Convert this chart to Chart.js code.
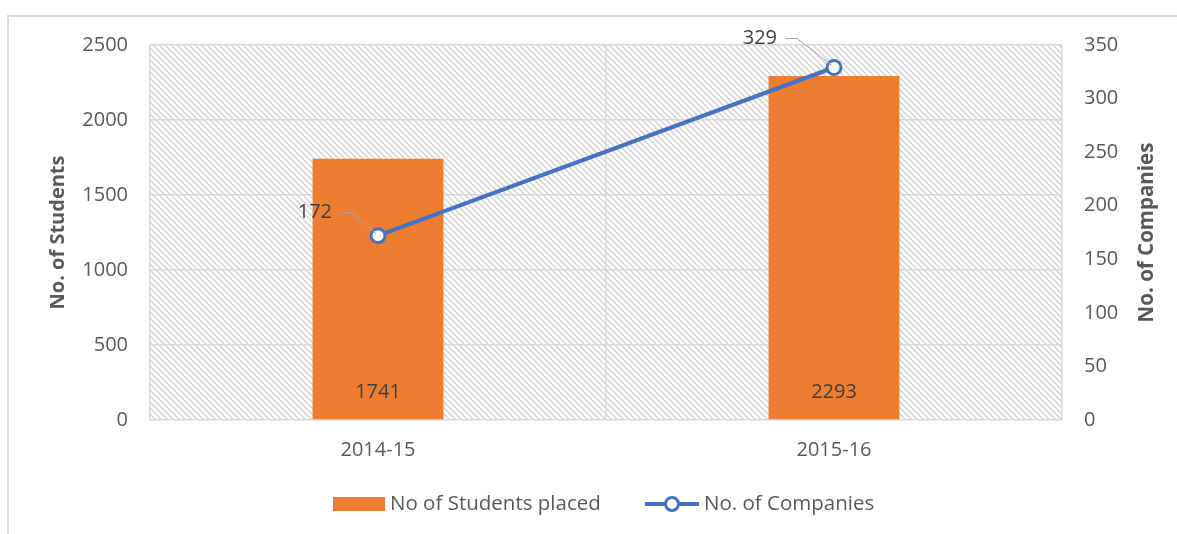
<!DOCTYPE html>
<html>
<head>
<meta charset="utf-8">
<script src="https://cdn.jsdelivr.net/npm/chart.js@4"></script>
<style>
  body { margin: 0; background: #fff; }
  #frame { position: absolute; left: 7px; top: 15px; width: 1200px; height: 600px;
           border-top: 2px solid #d9d9d9; border-left: 2px solid #d9d9d9; }
  #placement { position: absolute; left: 0; top: 0; }
</style>
</head>
<body>
<div id="frame"></div>
<canvas id="placement" width="1177" height="534"></canvas>
<script>
// data
const years = ['2014-15', '2015-16'];
const studentsPlaced = [1741, 2293];
const companies = [172, 329];
const studentTicks = [0, 500, 1000, 1500, 2000, 2500];
const companyTicks = [0, 50, 100, 150, 200, 250, 300, 350];

const FONT = '"Open Sans", sans-serif';
const TEXT = '#595959';
const ORANGE = '#ED7D31';
const BLUE = '#4472C4';
const GRID = '#d9d9d9';

// where the company labels sit relative to their point (label right edge, centre y)
const labelOffsets = [[-46, -23], [-57, -29]];

function hatch(ctx) {
    const c = document.createElement('canvas');
    c.width = 6; c.height = 6;
    const p = c.getContext('2d');
    p.strokeStyle = '#d2d2d2';
    p.lineWidth = 1.4;
    p.beginPath();
    p.moveTo(-1, -1); p.lineTo(7, 7);
    p.moveTo(-4, 2); p.lineTo(4, 10);
    p.moveTo(2, -4); p.lineTo(10, 4);
    p.stroke();
    return ctx.createPattern(c, 'repeat');
}

const extras = {
    id: 'extras',
    beforeDraw(chart) {
        const { ctx, chartArea: a } = chart;
        ctx.save();
        ctx.fillStyle = hatch(ctx);
        ctx.fillRect(a.left, a.top, a.right - a.left, a.bottom - a.top);
        ctx.restore();
    },
    afterDatasetsDraw(chart) {
        const { ctx, chartArea: a } = chart;
        ctx.save();
        ctx.font = '20px ' + FONT;
        ctx.fillStyle = '#404040';
        ctx.textBaseline = 'middle';

        // bar value labels near the base
        ctx.textAlign = 'center';
        chart.getDatasetMeta(0).data.forEach((bar, i) => {
            ctx.fillText(studentsPlaced[i], bar.x, bar.base - 27);
        });

        // line value labels with leader lines
        chart.getDatasetMeta(1).data.forEach((pt, i) => {
            const [dx, dy] = labelOffsets[i];
            const rx = pt.x + dx, ly = pt.y + dy;
            ctx.textAlign = 'right';
            ctx.fillStyle = '#404040';
            ctx.fillText(companies[i], rx, ly);
            ctx.strokeStyle = '#a6a6a6';
            ctx.lineWidth = 1;
            ctx.beginPath();
            ctx.moveTo(rx + 9, ly);
            ctx.lineTo(rx + 20, ly);
            ctx.lineTo(pt.x - 2, pt.y - 2);
            ctx.stroke();
        });

        // axis titles (both read bottom to top)
        ctx.fillStyle = TEXT;
        ctx.textAlign = 'center';
        const midY = (a.top + a.bottom) / 2;
        [[58, 'No. of Students', 20], [1147, 'No. of Companies', 20.5]].forEach(([x, t, size]) => {
            ctx.save();
            ctx.font = 'bold ' + size + 'px ' + FONT;
            ctx.translate(x, midY);
            ctx.rotate(-Math.PI / 2);
            ctx.fillText(t, 0, 0);
            ctx.restore();
        });

        // legend
        ctx.font = '20.5px ' + FONT;
        ctx.textAlign = 'left';
        const t1 = chart.data.datasets[0].label, t2 = chart.data.datasets[1].label;
        const y = 504;
        ctx.fillStyle = ORANGE;
        ctx.fillRect(333, y - 7, 52, 14);
        ctx.fillStyle = TEXT;
        ctx.fillText(t1, 390, y);
        ctx.strokeStyle = BLUE;
        ctx.lineWidth = 4;
        ctx.beginPath();
        ctx.moveTo(645, y); ctx.lineTo(699, y);
        ctx.stroke();
        ctx.beginPath();
        ctx.arc(672, y, 6.5, 0, Math.PI * 2);
        ctx.fillStyle = '#fff';
        ctx.fill();
        ctx.lineWidth = 3;
        ctx.stroke();
        ctx.fillStyle = TEXT;
        ctx.fillText(t2, 704, y);
        ctx.restore();
    }
};

const plainTick = v => String(v);

new Chart(document.getElementById('placement'), {
    type: 'bar',
    data: {
        labels: years,
        datasets: [
            {
                label: 'No of Students placed',
                data: studentsPlaced,
                backgroundColor: ORANGE,
                yAxisID: 'y',
                categoryPercentage: 1,
                barPercentage: 0.287,
                order: 1
            },
            {
                type: 'line',
                label: 'No. of Companies',
                data: companies,
                borderColor: BLUE,
                borderWidth: 4,
                pointRadius: 7,
                pointBorderWidth: 3,
                pointBackgroundColor: '#fff',
                pointBorderColor: BLUE,
                yAxisID: 'y1',
                order: 0
            }
        ]
    },
    options: {
        responsive: false,
        animation: false,
        layout: { padding: { top: 45, left: 0, right: 0, bottom: 0 } },
        plugins: { legend: { display: false }, tooltip: { enabled: false } },
        scales: {
            x: {
                offset: true,
                grid: { offset: true, color: GRID, lineWidth: 1.5, drawTicks: false },
                border: { display: false },
                ticks: { color: TEXT, font: { family: FONT, size: 20 }, padding: 18 },
                afterFit(s) { s.height = 114; }
            },
            y: {
                position: 'left',
                min: studentTicks[0],
                max: studentTicks[studentTicks.length - 1],
                ticks: { stepSize: studentTicks[1] - studentTicks[0], color: TEXT,
                         font: { family: FONT, size: 20 }, padding: 22, callback: plainTick },
                grid: { color: GRID, lineWidth: 1.5, drawTicks: false },
                border: { display: false },
                afterFit(s) { s.width = 150; }
            },
            y1: {
                position: 'right',
                min: companyTicks[0],
                max: companyTicks[companyTicks.length - 1],
                ticks: { stepSize: companyTicks[1] - companyTicks[0], color: TEXT,
                         font: { family: FONT, size: 20 }, padding: 22, callback: plainTick },
                grid: { display: false, drawTicks: false },
                border: { display: false },
                afterFit(s) { s.width = 115; }
            }
        }
    },
    plugins: [extras]
});
</script>
</body>
</html>
